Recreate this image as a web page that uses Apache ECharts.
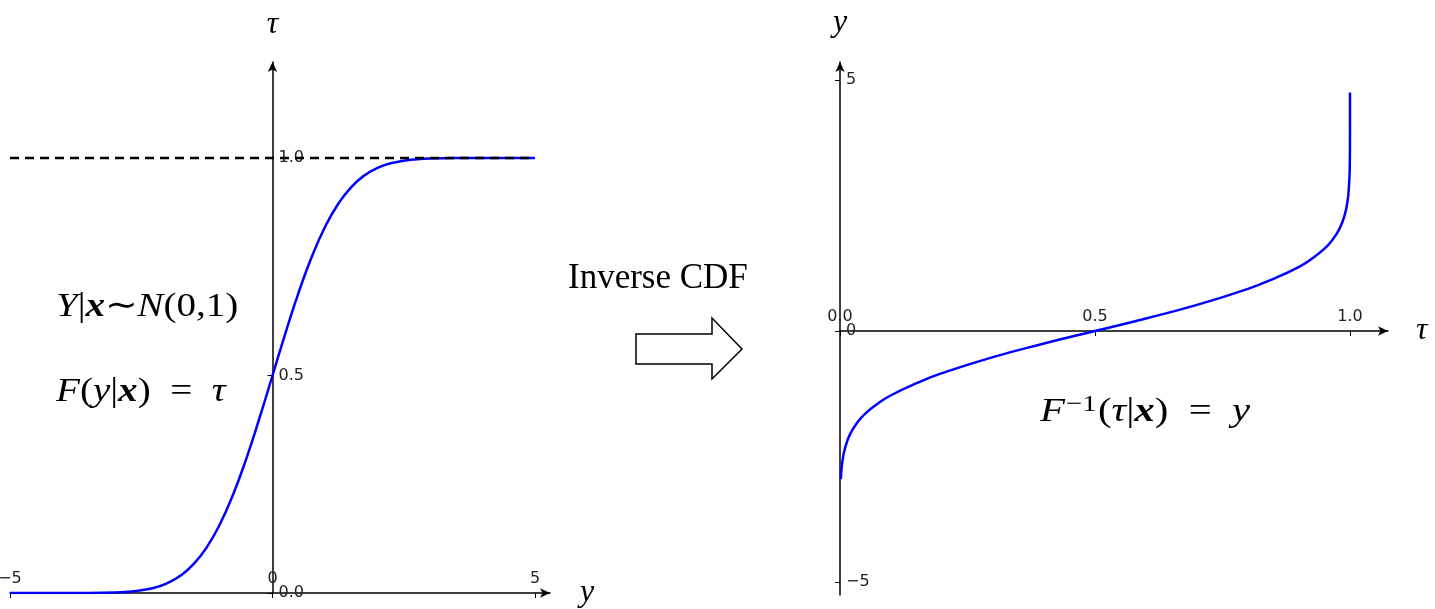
<!DOCTYPE html>
<html>
<head>
<meta charset="utf-8">
<title>CDF and inverse CDF</title>
<script src="https://cdn.jsdelivr.net/npm/echarts@6/dist/echarts.min.js"></script>
<style>
  html, body { margin: 0; padding: 0; background: #fff; }
  #chart { width: 1435px; height: 609px; }
</style>
</head>
<body>
<div id="chart"></div>
<script>
// left panel: CDF of N(0,1)
const cdfY = [-5, -4, -3.5, -3, -2.75, -2.5, -2.25, -2, -1.75, -1.5, -1.25, -1, -0.75, -0.5, -0.25, 0,
  0.25, 0.5, 0.75, 1, 1.25, 1.5, 1.75, 2, 2.25, 2.5, 2.75, 3, 3.5, 4, 5];
const cdfTau = [0, 0.00003, 0.0002, 0.0013, 0.003, 0.0062, 0.0122, 0.0228, 0.040, 0.0668, 0.1056, 0.1587, 0.2266, 0.3085, 0.4013, 0.5,
  0.5987, 0.6915, 0.7734, 0.8413, 0.8944, 0.9332, 0.960, 0.9772, 0.9878, 0.9938, 0.997, 0.9987, 0.9998, 0.99997, 1];
// dashed asymptote at tau = 1
const dashY = [-5, 5];
const dashTau = [1, 1];

// right panel: inverse CDF
const invTau = [0.0016, 0.003, 0.005, 0.01, 0.02, 0.035, 0.05, 0.075, 0.1, 0.15, 0.2, 0.3, 0.4, 0.5,
  0.6, 0.7, 0.8, 0.85, 0.9, 0.925, 0.95, 0.965, 0.98, 0.99, 0.995, 0.997, 0.999, 0.9997, 0.9999, 0.99999, 0.999999];
const invY = [-2.95, -2.75, -2.58, -2.33, -2.05, -1.81, -1.64, -1.44, -1.28, -1.04, -0.84, -0.52, -0.25, 0,
  0.25, 0.52, 0.84, 1.04, 1.28, 1.44, 1.64, 1.81, 2.05, 2.33, 2.58, 2.75, 3.09, 3.43, 3.72, 4.26, 4.75];

// tick values
const leftXTicks = [-5, 0, 5];
const leftYTicks = [0, 0.5, 1];
const rightXTicks = [0, 0.5, 1];
const rightYTicks = [-5, 0, 5];

const zip = (a, b) => a.map((v, i) => [v, b[i]]);

const axisColor = '#000';
const labelFont = { fontFamily: 'DejaVu Sans', fontSize: 16, color: '#222' };
const mathFont = 'Liberation Serif';
const minus = v => String(v).replace('-', '\u2212');

// axes cross at zero, so two of them are shifted into the grid with offset
function baseAxis(ticks, fmt, name, nameGap) {
  return {
    type: 'value',
    name: name,
    nameLocation: 'end',
    nameGap: nameGap,
    nameTextStyle: { fontFamily: mathFont, fontStyle: 'italic', fontSize: 32, color: '#000' },
    splitLine: { show: false },
    axisLine: {
      show: true, onZero: false,
      symbol: ['none', 'arrow'], symbolSize: [7, 10],
      lineStyle: { color: axisColor, width: 1.5 }
    },
    axisTick: { show: true, inside: false, length: 5, customValues: ticks, lineStyle: { color: axisColor, width: 1 } },
    axisLabel: Object.assign({ show: true, inside: true, margin: 6, customValues: ticks, formatter: fmt }, labelFont)
  };
}

const mathRich = {
  i: { fontStyle: 'italic', fontSize: 34, fontFamily: mathFont },
  b: { fontStyle: 'italic', fontWeight: 'bold', fontSize: 34, fontFamily: mathFont },
  s: { fontSize: 24, fontFamily: mathFont, verticalAlign: 'bottom', padding: [0, 1, 14, 1] }
};

const chart = echarts.init(document.getElementById('chart'));

const option = {
  backgroundColor: '#fff',
  animation: false,
  grid: [
    { left: 10, top: 62, width: 540, height: 531, outerBoundsMode: 'none' },
    { left: 840, top: 62, width: 548, height: 533, outerBoundsMode: 'none' }
  ],
  xAxis: [
    Object.assign(baseAxis(leftXTicks, v => minus(v), 'y', 30), { gridIndex: 0, min: -5, max: 5.2857, position: 'bottom' }),
    Object.assign(baseAxis(rightXTicks, v => v.toFixed(1), 'τ', 28), { gridIndex: 1, min: 0, max: 1.0745, position: 'bottom', offset: -264 })
  ],
  yAxis: [
    Object.assign(baseAxis(leftYTicks, v => v.toFixed(1), 'τ', 21), { gridIndex: 0, min: 0, max: 1.2207, position: 'left', offset: -262.5 }),
    Object.assign(baseAxis(rightYTicks, v => minus(v), 'y', 23), { gridIndex: 1, min: -5.26, max: 5.36, position: 'left' })
  ],
  series: [
    {
      type: 'line', xAxisIndex: 0, yAxisIndex: 0,
      data: zip(cdfY, cdfTau), showSymbol: false, smooth: 0.5,
      lineStyle: { color: '#0000ff', width: 2.5 }
    },
    {
      type: 'line', xAxisIndex: 0, yAxisIndex: 0,
      data: zip(dashY, dashTau), showSymbol: false,
      lineStyle: { color: '#000', width: 2.5, type: [9, 6] }
    },
    {
      type: 'line', xAxisIndex: 1, yAxisIndex: 1,
      data: zip(invTau, invY), showSymbol: false, smooth: 0.5,
      lineStyle: { color: '#0000ff', width: 2.5 }
    }
  ],
  graphic: [
    {
      type: 'text', left: 56, top: 290, scaleX: 1.15,
      style: { text: '{i|Y}|{b|x}∼{i|N}(0,1)', font: '34px "Liberation Serif"', fill: '#000', rich: mathRich }
    },
    {
      type: 'text', left: 56, top: 375, scaleX: 1.15,
      style: { text: '{i|F}({i|y}|{b|x})  =  {i|τ}', font: '34px "Liberation Serif"', fill: '#000', rich: mathRich }
    },
    {
      type: 'text', left: 1040, top: 393, scaleX: 1.2,
      style: { text: '{i|F}{s|−1}({i|τ}|{b|x})  =  {i|y}', font: '34px "Liberation Serif"', fill: '#000', rich: mathRich }
    },
    {
      type: 'text', left: 568, top: 261,
      style: { text: 'Inverse CDF', font: '35px "Liberation Serif"', fill: '#000' }
    },
    {
      type: 'polygon',
      shape: { points: [[636, 334], [712, 334], [712, 318], [742, 349], [712, 379], [712, 364], [636, 364]] },
      style: { fill: '#fff', stroke: '#000', lineWidth: 1.5 }
    }
  ]
};

chart.setOption(option);
</script>
</body>
</html>
